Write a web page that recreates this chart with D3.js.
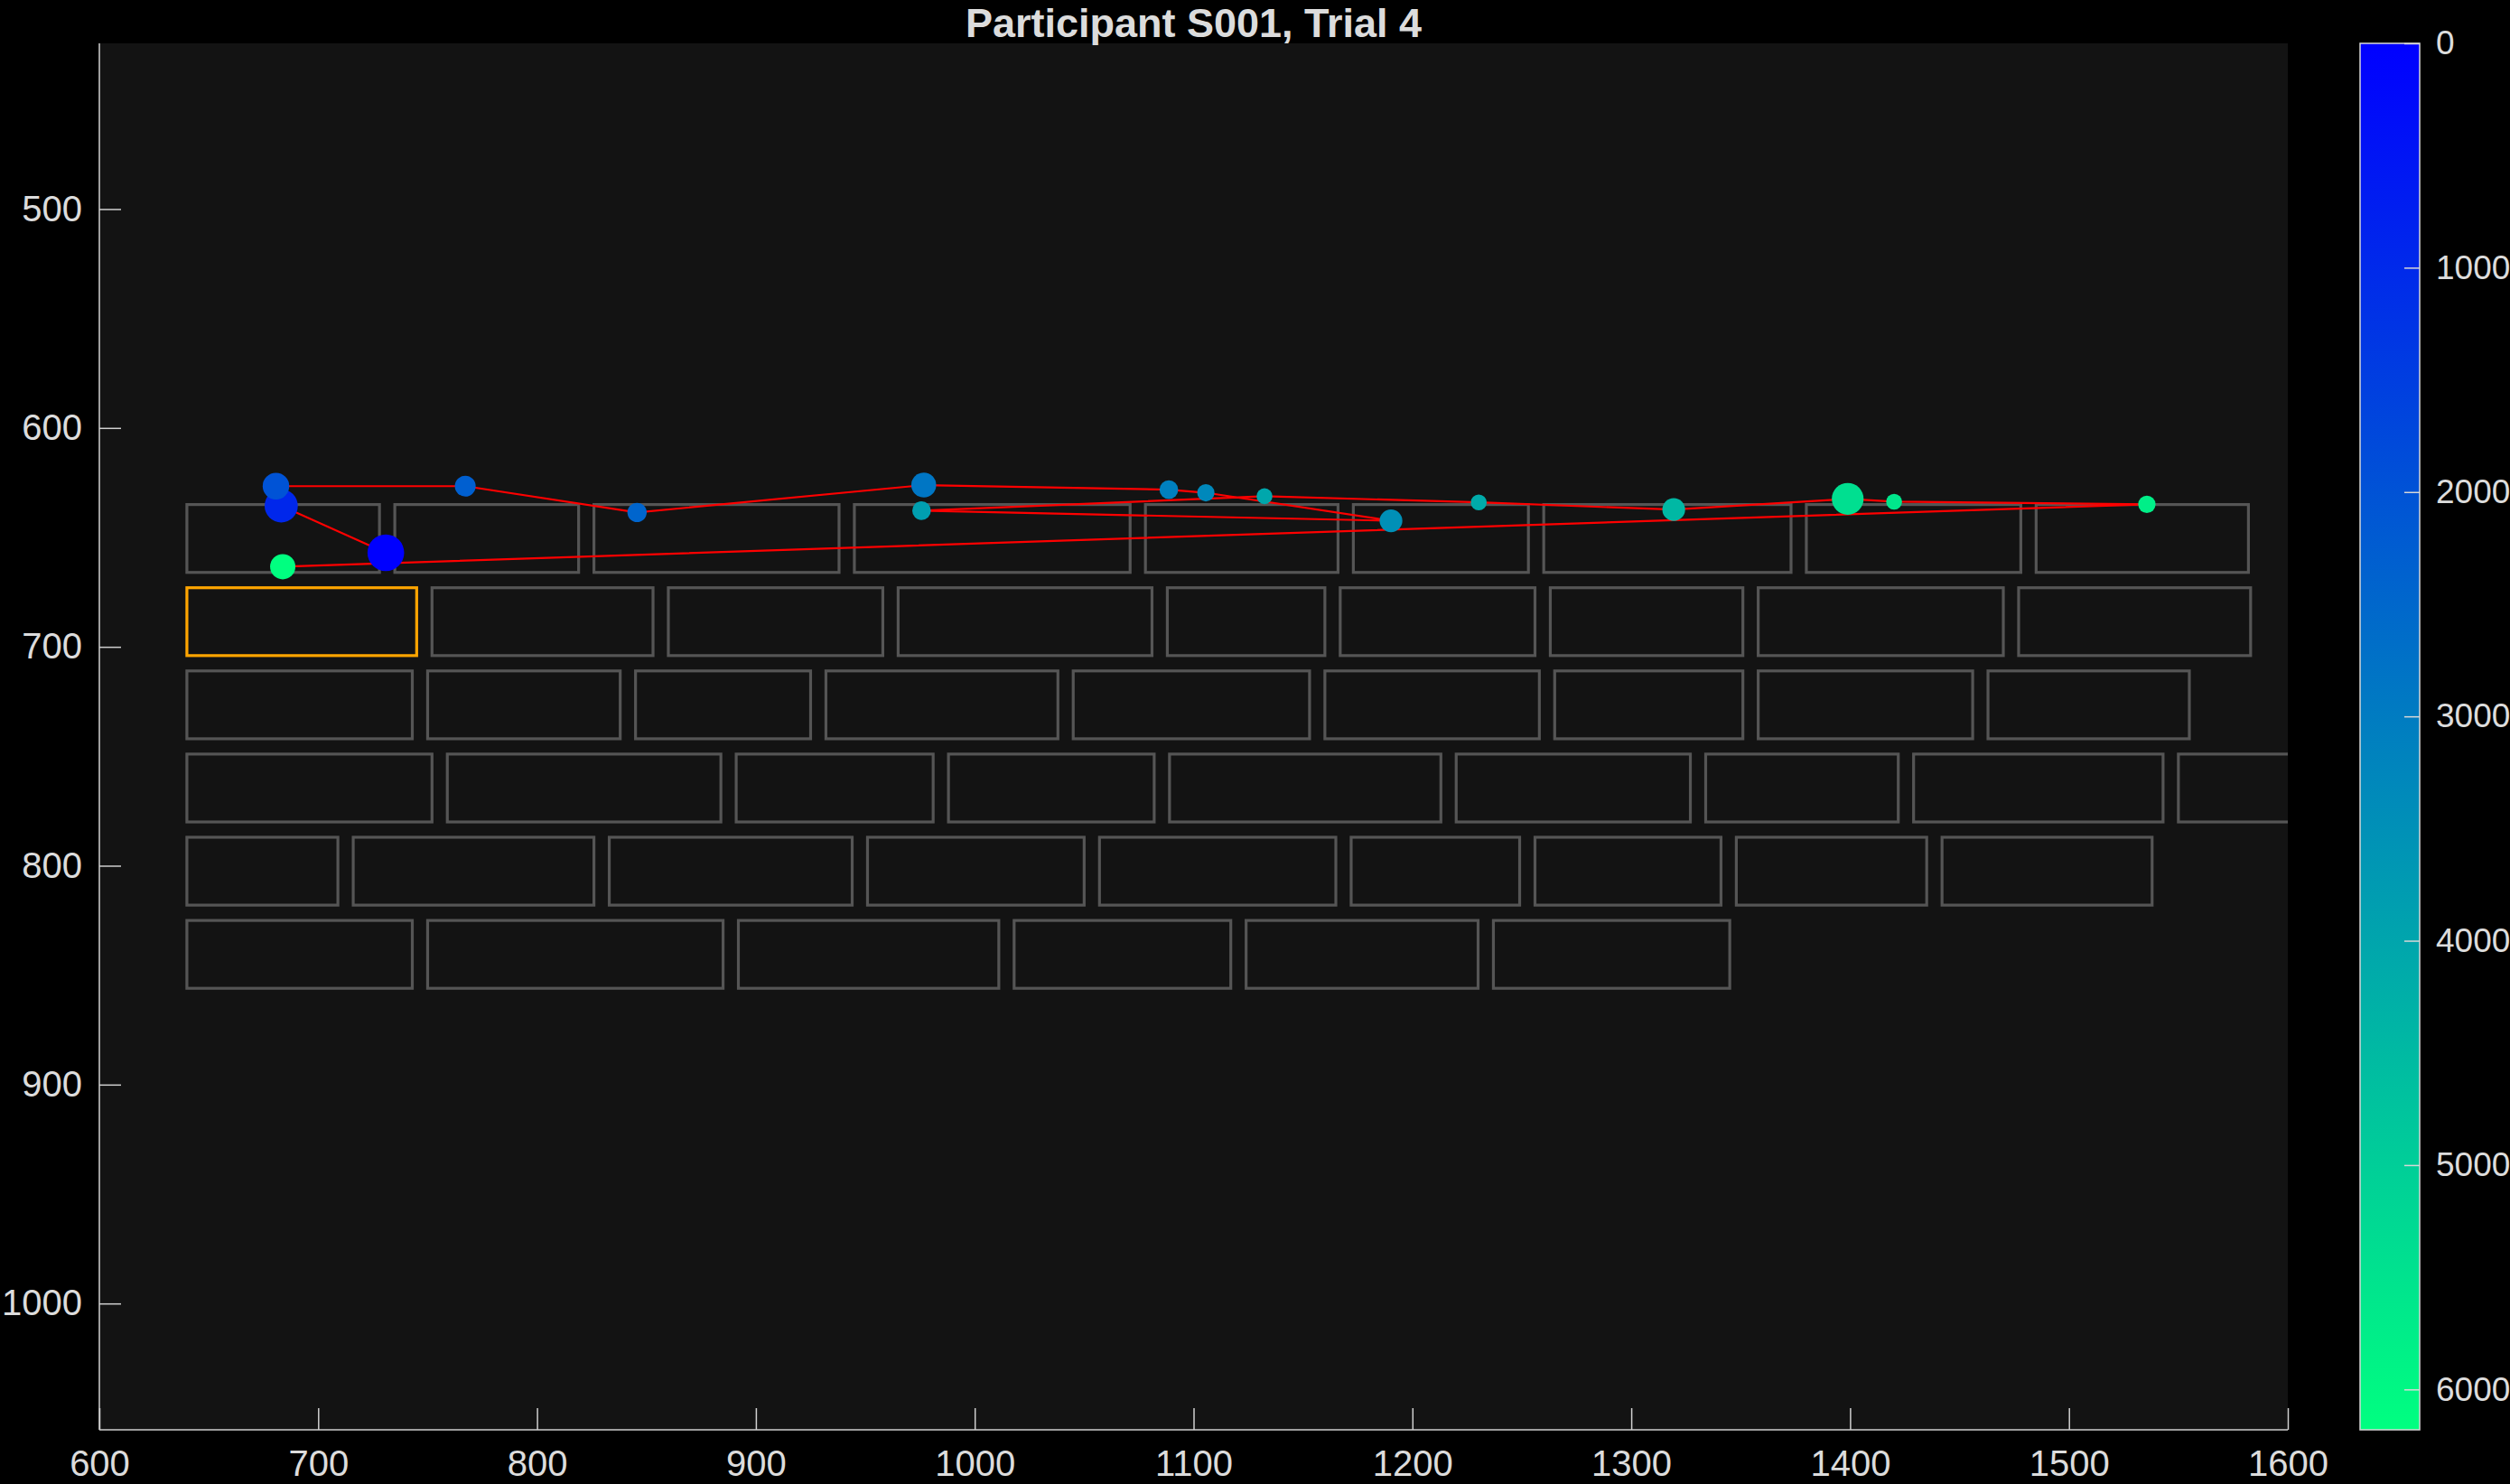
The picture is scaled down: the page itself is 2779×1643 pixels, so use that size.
<!DOCTYPE html>
<html>
<head>
<meta charset="utf-8">
<script src="https://cdn.jsdelivr.net/npm/d3@7"></script>
<style>
html,body{margin:0;padding:0;background:#000;}
svg{display:block;}
</style>
</head>
<body>
<svg id="chart" width="2779" height="1643"></svg>
<script>
// ---------- data ----------
const titleText = "Participant S001, Trial 4";
const xTicks = [600,700,800,900,1000,1100,1200,1300,1400,1500,1600];
const yTicks = [500,600,700,800,900,1000];
const cbTicks = [0,1000,2000,3000,4000,5000,6000];
const timeMax = 6180;

// brick rows (screen coordinates, px): top of each row and [left,right] of each brick
const rowTops = [635,673,711,749,787,825];
const brickHeight = 31;
const row1 = [[640,728],[735,819],[826,938],[945,1071],[1078,1166],[1173,1253],[1260,1373],[1380,1478],[1485,1582]];
const row2 = [[640,745],[752,853],[860,958],[965,1081],[1088,1160],[1167,1256],[1263,1351],[1358,1470],[1477,1583]];
const row3 = [[640,743],[750,838],[845,925],[932,1038],[1045,1153],[1160,1258],[1265,1351],[1358,1456],[1463,1555]];
const row4 = [[640,752],[759,884],[891,981],[988,1082],[1089,1213],[1220,1327],[1334,1422],[1429,1543],[1550,1660]];
const row5 = [[640,709],[716,826],[833,944],[951,1050],[1057,1165],[1172,1249],[1256,1341],[1348,1435],[1442,1538]];
const row6 = [[640,743],[750,885],[892,1011],[1018,1117],[1124,1230],[1237,1345]];
const targetRow = 1, targetBrick = 0;

// fixations in order
const fixX   = [730.9,683.1,680.7,767.2,845.7,976.7,1088.7,1105.6,1190.2,975.7,1132.4,1230.3,1319.4,1398.9,1420.1,1535.6,683.8];
const fixY   = [657.0,635.6,626.6,626.6,638.6,626.1,628.2,629.6,642.4,637.8,631.2,634.0,637.3,632.4,633.7,634.9,663.4];
const fixT   = [0,950,2000,2300,2450,2850,3100,3300,3500,3850,4050,4150,4450,5400,5600,5800,6180];
const fixDur = [800,657,420,257,222,369,206,179,308,206,150,150,308,601,150,179,380];

// ---------- layout ----------
const W = 2779, H = 1643;
const L = 110, R = 2533, T = 48, B = 1583;
const cbX = 2613, cbW = 66;
const axisColor = "#d0d0d0", textColor = "#dcdcdc";
const font = "'Liberation Sans', Arial, Helvetica, sans-serif";
const fmt = d3.format("d");

const svg = d3.select("#chart");
svg.append("rect").attr("width",W).attr("height",H).attr("fill","#000");

const x = d3.scaleLinear().domain([600,1600]).range([L,R]);
const y = d3.scaleLinear().domain([424.3,1057.7]).range([T,B]);
const color = d3.scaleLinear().domain([0,timeMax]).range(["rgb(0,0,255)","rgb(0,255,128)"]).interpolate(d3.interpolateRgb);
const rScale = d3.scaleSqrt().domain([0,800]).range([0,20.3]);

// plot background
svg.append("rect").attr("x",L).attr("y",T).attr("width",R-L).attr("height",B-T).attr("fill","#131313");

const defs = svg.append("defs");
defs.append("clipPath").attr("id","plotclip").append("rect")
  .attr("x",L).attr("y",T).attr("width",R-L).attr("height",B-T);

const plot = svg.append("g").attr("clip-path","url(#plotclip)");

// bricks
const rows = [row1,row2,row3,row4,row5,row6];
const brickData = [];
rows.forEach((row,ri)=>row.forEach((b,bi)=>brickData.push({x0:b[0],x1:b[1],top:rowTops[ri],target:(ri===targetRow&&bi===targetBrick)})));
plot.selectAll("rect.brick").data(brickData.filter(d=>!d.target).concat(brickData.filter(d=>d.target)))
  .enter().append("rect").attr("class","brick")
  .attr("x",d=>x(d.x0)).attr("y",d=>y(d.top))
  .attr("width",d=>x(d.x1)-x(d.x0)).attr("height",d=>y(d.top+brickHeight)-y(d.top))
  .attr("fill","none")
  .attr("stroke",d=>d.target?"#ffa500":"#555555")
  .attr("stroke-width",3.2);

// scanpath
const pts = fixX.map((v,i)=>({x:v,y:fixY[i],t:fixT[i],d:fixDur[i]}));
plot.append("path").datum(pts)
  .attr("d",d3.line().x(d=>x(d.x)).y(d=>y(d.y)))
  .attr("fill","none").attr("stroke","#ff0000").attr("stroke-width",2.2);
plot.selectAll("circle.fix").data(pts).enter().append("circle").attr("class","fix")
  .attr("cx",d=>x(d.x)).attr("cy",d=>y(d.y)).attr("r",d=>rScale(d.d))
  .attr("fill",d=>color(d.t));

// axes
const xAxis = d3.axisBottom(x).tickValues(xTicks).tickFormat(fmt).tickSizeInner(-24).tickSizeOuter(0).tickPadding(23);
const gx = svg.append("g").attr("transform",`translate(0,${B})`).call(xAxis);
const yAxis = d3.axisLeft(y).tickValues(yTicks).tickFormat(fmt).tickSizeInner(-24).tickSizeOuter(0).tickPadding(19);
const gy = svg.append("g").attr("transform",`translate(${L},0)`).call(yAxis);
[gx,gy].forEach(g=>{
  g.select(".domain").attr("stroke",axisColor).attr("stroke-width",1.5);
  g.selectAll(".tick line").attr("stroke",axisColor).attr("stroke-width",1.5);
  g.selectAll(".tick text").attr("fill",textColor).style("font-family",font).style("font-size","40px");
});
gy.select(".domain").attr("d",`M0,${T}V${B}`);
gx.select(".domain").attr("d",`M${L},0H${R}`);

// title
svg.append("text").attr("x",(L+R)/2).attr("y",41).attr("text-anchor","middle")
  .attr("fill",textColor).style("font-family",font).style("font-weight","bold").style("font-size","45px")
  .text(titleText);

// colorbar
const cy = d3.scaleLinear().domain([0,timeMax]).range([T,B]);
const grad = defs.append("linearGradient").attr("id","cbgrad").attr("x1",0).attr("y1",0).attr("x2",0).attr("y2",1);
grad.append("stop").attr("offset","0%").attr("stop-color",color(0));
grad.append("stop").attr("offset","100%").attr("stop-color",color(timeMax));
svg.append("rect").attr("x",cbX).attr("y",T).attr("width",cbW).attr("height",B-T)
  .attr("fill","url(#cbgrad)").attr("stroke","#d8d8d8").attr("stroke-width",1.5);
const cbAxis = d3.axisRight(cy).tickValues(cbTicks).tickFormat(fmt).tickSizeInner(-17).tickSizeOuter(0).tickPadding(18);
const gcb = svg.append("g").attr("transform",`translate(${cbX+cbW},0)`).call(cbAxis);
gcb.select(".domain").remove();
gcb.selectAll(".tick line").attr("stroke","#d8d8d8").attr("stroke-width",1.5);
gcb.selectAll(".tick text").attr("fill",textColor).style("font-family",font).style("font-size","37px");
</script>
</body>
</html>
